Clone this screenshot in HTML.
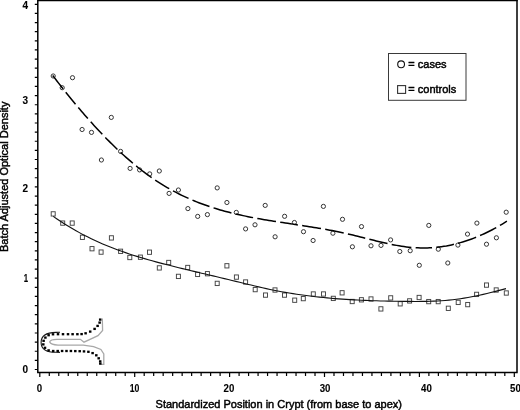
<!DOCTYPE html>
<html><head><meta charset="utf-8"><style>
html,body{margin:0;padding:0;background:#fff;}
svg{display:block;will-change:transform;}
text{font-family:"Liberation Sans",sans-serif;fill:#000;}
.tl{font-size:10px;font-weight:bold;stroke:#000;stroke-width:0.1px;}
.ti{font-size:11px;stroke:#000;stroke-width:0.45px;}
.lg{font-size:11px;stroke:#000;stroke-width:0.45px;}
</style></head><body>
<svg width="520" height="410" viewBox="0 0 520 410">
<path d="M37.8,0 V372.5 H517.0 V0" fill="none" stroke="#000" stroke-width="1.5"/>
<line x1="37.8" y1="0.5" x2="517.7" y2="0.5" stroke="#000" stroke-width="1.3"/>
<path d="M34.8,369.50 H37.8 M34.8,360.37 H37.8 M34.8,351.24 H37.8 M34.8,342.11 H37.8 M34.8,332.98 H37.8 M34.8,323.85 H37.8 M34.8,314.72 H37.8 M34.8,305.59 H37.8 M34.8,296.46 H37.8 M34.8,287.33 H37.8 M34.8,278.20 H37.8 M34.8,269.07 H37.8 M34.8,259.94 H37.8 M34.8,250.81 H37.8 M34.8,241.68 H37.8 M34.8,232.55 H37.8 M34.8,223.42 H37.8 M34.8,214.29 H37.8 M34.8,205.16 H37.8 M34.8,196.03 H37.8 M34.8,186.90 H37.8 M34.8,177.77 H37.8 M34.8,168.64 H37.8 M34.8,159.51 H37.8 M34.8,150.38 H37.8 M34.8,141.25 H37.8 M34.8,132.12 H37.8 M34.8,122.99 H37.8 M34.8,113.86 H37.8 M34.8,104.73 H37.8 M34.8,95.60 H37.8 M34.8,86.47 H37.8 M34.8,77.34 H37.8 M34.8,68.21 H37.8 M34.8,59.08 H37.8 M34.8,49.95 H37.8 M34.8,40.82 H37.8 M34.8,31.69 H37.8 M34.8,22.56 H37.8 M34.8,13.43 H37.8 M34.8,4.30 H37.8 M39.80,372.5 V377.0 M49.29,372.5 V376.0 M58.78,372.5 V376.0 M68.27,372.5 V376.0 M77.76,372.5 V376.0 M87.25,372.5 V376.0 M96.74,372.5 V376.0 M106.23,372.5 V376.0 M115.72,372.5 V376.0 M125.21,372.5 V376.0 M134.70,372.5 V377.0 M144.19,372.5 V376.0 M153.68,372.5 V376.0 M163.17,372.5 V376.0 M172.66,372.5 V376.0 M182.15,372.5 V376.0 M191.64,372.5 V376.0 M201.13,372.5 V376.0 M210.62,372.5 V376.0 M220.11,372.5 V376.0 M229.60,372.5 V377.0 M239.09,372.5 V376.0 M248.58,372.5 V376.0 M258.07,372.5 V376.0 M267.56,372.5 V376.0 M277.05,372.5 V376.0 M286.54,372.5 V376.0 M296.03,372.5 V376.0 M305.52,372.5 V376.0 M315.01,372.5 V376.0 M324.50,372.5 V377.0 M333.99,372.5 V376.0 M343.48,372.5 V376.0 M352.97,372.5 V376.0 M362.46,372.5 V376.0 M371.95,372.5 V376.0 M381.44,372.5 V376.0 M390.93,372.5 V376.0 M400.42,372.5 V376.0 M409.91,372.5 V376.0 M419.40,372.5 V377.0 M428.89,372.5 V376.0 M438.38,372.5 V376.0 M447.87,372.5 V376.0 M457.36,372.5 V376.0 M466.85,372.5 V376.0 M476.34,372.5 V376.0 M485.83,372.5 V376.0 M495.32,372.5 V376.0 M504.81,372.5 V376.0 M514.30,372.5 V377.0" stroke="#000" stroke-width="1.2" fill="none"/>
<text transform="translate(28.0,373.40) scale(1.0,1)" text-anchor="end" class="tl">0</text>
<text transform="translate(28.0,281.80) scale(0.78,1)" text-anchor="end" class="tl">1</text>
<text transform="translate(28.0,192.00) scale(1.0,1)" text-anchor="end" class="tl">2</text>
<text transform="translate(28.0,103.60) scale(1.0,1)" text-anchor="end" class="tl">3</text>
<text transform="translate(28.0,8.60) scale(1.0,1)" text-anchor="end" class="tl">4</text>
<text transform="translate(39.40,391.8) scale(0.97,1)" text-anchor="middle" class="tl">0</text>
<text transform="translate(134.50,391.8) scale(0.87,1)" text-anchor="middle" class="tl">10</text>
<text transform="translate(229.00,391.8) scale(0.97,1)" text-anchor="middle" class="tl">20</text>
<text transform="translate(325.10,391.8) scale(0.97,1)" text-anchor="middle" class="tl">30</text>
<text transform="translate(426.50,391.8) scale(0.97,1)" text-anchor="middle" class="tl">40</text>
<text transform="translate(515.40,391.8) scale(0.97,1)" text-anchor="middle" class="tl">50</text>
<text x="278.8" y="407.5" text-anchor="middle" class="ti">Standardized Position in Crypt (from base to apex)</text>
<text transform="translate(7.9,176.8) rotate(-90)" text-anchor="middle" class="ti">Batch Adjusted Optical Density</text>
<circle cx="53.2" cy="76" r="2.1" fill="#fff" stroke="#2a2a2a" stroke-width="0.95"/>
<circle cx="62.2" cy="87.7" r="2.1" fill="#fff" stroke="#2a2a2a" stroke-width="0.95"/>
<circle cx="72.5" cy="77.7" r="2.1" fill="#fff" stroke="#2a2a2a" stroke-width="0.95"/>
<circle cx="82.1" cy="129.5" r="2.1" fill="#fff" stroke="#2a2a2a" stroke-width="0.95"/>
<circle cx="91.5" cy="132.4" r="2.1" fill="#fff" stroke="#2a2a2a" stroke-width="0.95"/>
<circle cx="101.4" cy="160" r="2.1" fill="#fff" stroke="#2a2a2a" stroke-width="0.95"/>
<circle cx="111.3" cy="117.4" r="2.1" fill="#fff" stroke="#2a2a2a" stroke-width="0.95"/>
<circle cx="120.6" cy="151.4" r="2.1" fill="#fff" stroke="#2a2a2a" stroke-width="0.95"/>
<circle cx="130.1" cy="168.4" r="2.1" fill="#fff" stroke="#2a2a2a" stroke-width="0.95"/>
<circle cx="139.6" cy="169.9" r="2.1" fill="#fff" stroke="#2a2a2a" stroke-width="0.95"/>
<circle cx="149.7" cy="173.9" r="2.1" fill="#fff" stroke="#2a2a2a" stroke-width="0.95"/>
<circle cx="159.3" cy="171" r="2.1" fill="#fff" stroke="#2a2a2a" stroke-width="0.95"/>
<circle cx="169.1" cy="193.4" r="2.1" fill="#fff" stroke="#2a2a2a" stroke-width="0.95"/>
<circle cx="178.4" cy="190" r="2.1" fill="#fff" stroke="#2a2a2a" stroke-width="0.95"/>
<circle cx="187.9" cy="208.6" r="2.1" fill="#fff" stroke="#2a2a2a" stroke-width="0.95"/>
<circle cx="197.7" cy="216.4" r="2.1" fill="#fff" stroke="#2a2a2a" stroke-width="0.95"/>
<circle cx="207.4" cy="214.6" r="2.1" fill="#fff" stroke="#2a2a2a" stroke-width="0.95"/>
<circle cx="217.2" cy="187.9" r="2.1" fill="#fff" stroke="#2a2a2a" stroke-width="0.95"/>
<circle cx="226.9" cy="202.5" r="2.1" fill="#fff" stroke="#2a2a2a" stroke-width="0.95"/>
<circle cx="236.3" cy="212.4" r="2.1" fill="#fff" stroke="#2a2a2a" stroke-width="0.95"/>
<circle cx="245.6" cy="228.9" r="2.1" fill="#fff" stroke="#2a2a2a" stroke-width="0.95"/>
<circle cx="255" cy="224.8" r="2.1" fill="#fff" stroke="#2a2a2a" stroke-width="0.95"/>
<circle cx="265.2" cy="205.4" r="2.1" fill="#fff" stroke="#2a2a2a" stroke-width="0.95"/>
<circle cx="275.1" cy="236.8" r="2.1" fill="#fff" stroke="#2a2a2a" stroke-width="0.95"/>
<circle cx="284.6" cy="216.3" r="2.1" fill="#fff" stroke="#2a2a2a" stroke-width="0.95"/>
<circle cx="294.4" cy="222.5" r="2.1" fill="#fff" stroke="#2a2a2a" stroke-width="0.95"/>
<circle cx="303.5" cy="231.7" r="2.1" fill="#fff" stroke="#2a2a2a" stroke-width="0.95"/>
<circle cx="313.1" cy="240.5" r="2.1" fill="#fff" stroke="#2a2a2a" stroke-width="0.95"/>
<circle cx="323.4" cy="206.4" r="2.1" fill="#fff" stroke="#2a2a2a" stroke-width="0.95"/>
<circle cx="332.9" cy="233.2" r="2.1" fill="#fff" stroke="#2a2a2a" stroke-width="0.95"/>
<circle cx="342.5" cy="219.3" r="2.1" fill="#fff" stroke="#2a2a2a" stroke-width="0.95"/>
<circle cx="352.4" cy="246.8" r="2.1" fill="#fff" stroke="#2a2a2a" stroke-width="0.95"/>
<circle cx="361.5" cy="226.6" r="2.1" fill="#fff" stroke="#2a2a2a" stroke-width="0.95"/>
<circle cx="371" cy="245.8" r="2.1" fill="#fff" stroke="#2a2a2a" stroke-width="0.95"/>
<circle cx="381" cy="245.4" r="2.1" fill="#fff" stroke="#2a2a2a" stroke-width="0.95"/>
<circle cx="390.6" cy="239.9" r="2.1" fill="#fff" stroke="#2a2a2a" stroke-width="0.95"/>
<circle cx="399.8" cy="251.5" r="2.1" fill="#fff" stroke="#2a2a2a" stroke-width="0.95"/>
<circle cx="410.2" cy="250.7" r="2.1" fill="#fff" stroke="#2a2a2a" stroke-width="0.95"/>
<circle cx="419.3" cy="265.3" r="2.1" fill="#fff" stroke="#2a2a2a" stroke-width="0.95"/>
<circle cx="428.8" cy="225.4" r="2.1" fill="#fff" stroke="#2a2a2a" stroke-width="0.95"/>
<circle cx="438.3" cy="249.2" r="2.1" fill="#fff" stroke="#2a2a2a" stroke-width="0.95"/>
<circle cx="447.8" cy="263" r="2.1" fill="#fff" stroke="#2a2a2a" stroke-width="0.95"/>
<circle cx="457.9" cy="245.1" r="2.1" fill="#fff" stroke="#2a2a2a" stroke-width="0.95"/>
<circle cx="467.5" cy="234.1" r="2.1" fill="#fff" stroke="#2a2a2a" stroke-width="0.95"/>
<circle cx="476.9" cy="223.1" r="2.1" fill="#fff" stroke="#2a2a2a" stroke-width="0.95"/>
<circle cx="486.5" cy="244.2" r="2.1" fill="#fff" stroke="#2a2a2a" stroke-width="0.95"/>
<circle cx="496.4" cy="237.8" r="2.1" fill="#fff" stroke="#2a2a2a" stroke-width="0.95"/>
<circle cx="506.2" cy="212.2" r="2.1" fill="#fff" stroke="#2a2a2a" stroke-width="0.95"/>
<rect x="51.20" y="211.75" width="4.0" height="4.3" fill="#fff" stroke="#444" stroke-width="0.95"/>
<rect x="60.70" y="220.95" width="4.0" height="4.3" fill="#fff" stroke="#444" stroke-width="0.95"/>
<rect x="70.20" y="220.95" width="4.0" height="4.3" fill="#fff" stroke="#444" stroke-width="0.95"/>
<rect x="80.40" y="235.15" width="4.0" height="4.3" fill="#fff" stroke="#444" stroke-width="0.95"/>
<rect x="90.00" y="246.55" width="4.0" height="4.3" fill="#fff" stroke="#444" stroke-width="0.95"/>
<rect x="99.10" y="249.95" width="4.0" height="4.3" fill="#fff" stroke="#444" stroke-width="0.95"/>
<rect x="109.40" y="235.75" width="4.0" height="4.3" fill="#fff" stroke="#444" stroke-width="0.95"/>
<rect x="118.60" y="249.15" width="4.0" height="4.3" fill="#fff" stroke="#444" stroke-width="0.95"/>
<rect x="127.80" y="255.35" width="4.0" height="4.3" fill="#fff" stroke="#444" stroke-width="0.95"/>
<rect x="138.40" y="255.05" width="4.0" height="4.3" fill="#fff" stroke="#444" stroke-width="0.95"/>
<rect x="147.50" y="250.05" width="4.0" height="4.3" fill="#fff" stroke="#444" stroke-width="0.95"/>
<rect x="157.30" y="265.75" width="4.0" height="4.3" fill="#fff" stroke="#444" stroke-width="0.95"/>
<rect x="166.70" y="260.35" width="4.0" height="4.3" fill="#fff" stroke="#444" stroke-width="0.95"/>
<rect x="176.40" y="274.25" width="4.0" height="4.3" fill="#fff" stroke="#444" stroke-width="0.95"/>
<rect x="185.70" y="265.35" width="4.0" height="4.3" fill="#fff" stroke="#444" stroke-width="0.95"/>
<rect x="195.60" y="272.25" width="4.0" height="4.3" fill="#fff" stroke="#444" stroke-width="0.95"/>
<rect x="205.40" y="271.55" width="4.0" height="4.3" fill="#fff" stroke="#444" stroke-width="0.95"/>
<rect x="215.20" y="281.25" width="4.0" height="4.3" fill="#fff" stroke="#444" stroke-width="0.95"/>
<rect x="224.90" y="263.65" width="4.0" height="4.3" fill="#fff" stroke="#444" stroke-width="0.95"/>
<rect x="234.40" y="274.95" width="4.0" height="4.3" fill="#fff" stroke="#444" stroke-width="0.95"/>
<rect x="243.60" y="279.85" width="4.0" height="4.3" fill="#fff" stroke="#444" stroke-width="0.95"/>
<rect x="253.20" y="287.45" width="4.0" height="4.3" fill="#fff" stroke="#444" stroke-width="0.95"/>
<rect x="263.50" y="292.95" width="4.0" height="4.3" fill="#fff" stroke="#444" stroke-width="0.95"/>
<rect x="273.00" y="287.85" width="4.0" height="4.3" fill="#fff" stroke="#444" stroke-width="0.95"/>
<rect x="282.50" y="292.95" width="4.0" height="4.3" fill="#fff" stroke="#444" stroke-width="0.95"/>
<rect x="292.70" y="298.05" width="4.0" height="4.3" fill="#fff" stroke="#444" stroke-width="0.95"/>
<rect x="301.30" y="296.45" width="4.0" height="4.3" fill="#fff" stroke="#444" stroke-width="0.95"/>
<rect x="311.30" y="291.85" width="4.0" height="4.3" fill="#fff" stroke="#444" stroke-width="0.95"/>
<rect x="321.50" y="291.85" width="4.0" height="4.3" fill="#fff" stroke="#444" stroke-width="0.95"/>
<rect x="331.30" y="296.25" width="4.0" height="4.3" fill="#fff" stroke="#444" stroke-width="0.95"/>
<rect x="340.10" y="290.65" width="4.0" height="4.3" fill="#fff" stroke="#444" stroke-width="0.95"/>
<rect x="350.20" y="299.35" width="4.0" height="4.3" fill="#fff" stroke="#444" stroke-width="0.95"/>
<rect x="359.40" y="297.65" width="4.0" height="4.3" fill="#fff" stroke="#444" stroke-width="0.95"/>
<rect x="369.00" y="296.85" width="4.0" height="4.3" fill="#fff" stroke="#444" stroke-width="0.95"/>
<rect x="378.90" y="306.75" width="4.0" height="4.3" fill="#fff" stroke="#444" stroke-width="0.95"/>
<rect x="388.70" y="295.75" width="4.0" height="4.3" fill="#fff" stroke="#444" stroke-width="0.95"/>
<rect x="398.20" y="301.65" width="4.0" height="4.3" fill="#fff" stroke="#444" stroke-width="0.95"/>
<rect x="407.60" y="298.75" width="4.0" height="4.3" fill="#fff" stroke="#444" stroke-width="0.95"/>
<rect x="417.10" y="295.35" width="4.0" height="4.3" fill="#fff" stroke="#444" stroke-width="0.95"/>
<rect x="426.70" y="299.45" width="4.0" height="4.3" fill="#fff" stroke="#444" stroke-width="0.95"/>
<rect x="436.20" y="299.45" width="4.0" height="4.3" fill="#fff" stroke="#444" stroke-width="0.95"/>
<rect x="446.30" y="306.15" width="4.0" height="4.3" fill="#fff" stroke="#444" stroke-width="0.95"/>
<rect x="456.20" y="300.25" width="4.0" height="4.3" fill="#fff" stroke="#444" stroke-width="0.95"/>
<rect x="465.70" y="302.45" width="4.0" height="4.3" fill="#fff" stroke="#444" stroke-width="0.95"/>
<rect x="474.60" y="292.25" width="4.0" height="4.3" fill="#fff" stroke="#444" stroke-width="0.95"/>
<rect x="484.50" y="282.95" width="4.0" height="4.3" fill="#fff" stroke="#444" stroke-width="0.95"/>
<rect x="494.20" y="287.85" width="4.0" height="4.3" fill="#fff" stroke="#444" stroke-width="0.95"/>
<rect x="504.30" y="290.85" width="4.0" height="4.3" fill="#fff" stroke="#444" stroke-width="0.95"/>
<path d="M53.20,216.34 L57.01,218.98 L60.81,221.52 L64.62,223.97 L68.42,226.32 L72.23,228.59 L76.03,230.77 L79.84,232.87 L83.64,234.89 L87.45,236.83 L91.25,238.70 L95.06,240.50 L98.86,242.22 L102.67,243.89 L106.47,245.49 L110.28,247.03 L114.08,248.51 L117.89,249.94 L121.69,251.31 L125.50,252.64 L129.30,253.92 L133.11,255.16 L136.91,256.36 L140.72,257.52 L144.52,258.65 L148.33,259.74 L152.13,260.81 L155.94,261.85 L159.74,262.87 L163.55,263.86 L167.35,264.84 L171.16,265.80 L174.96,266.76 L178.77,267.70 L182.57,268.63 L186.38,269.55 L190.18,270.46 L193.99,271.37 L197.79,272.27 L201.60,273.18 L205.40,274.08 L209.21,274.98 L213.01,275.88 L216.82,276.78 L220.62,277.69 L224.43,278.60 L228.23,279.52 L232.04,280.45 L235.84,281.38 L239.65,282.31 L243.45,283.25 L247.26,284.17 L251.06,285.09 L254.87,286.00 L258.67,286.89 L262.48,287.76 L266.28,288.60 L270.09,289.42 L273.89,290.21 L277.70,290.96 L281.50,291.68 L285.31,292.37 L289.11,293.02 L292.92,293.64 L296.72,294.23 L300.53,294.79 L304.33,295.32 L308.14,295.82 L311.94,296.29 L315.75,296.73 L319.55,297.15 L323.36,297.54 L327.16,297.91 L330.97,298.26 L334.77,298.58 L338.58,298.87 L342.38,299.15 L346.19,299.41 L349.99,299.64 L353.80,299.86 L357.60,300.06 L361.41,300.24 L365.21,300.41 L369.02,300.56 L372.82,300.70 L376.63,300.82 L380.43,300.93 L384.24,301.02 L388.04,301.11 L391.85,301.18 L395.65,301.24 L399.46,301.30 L403.26,301.34 L407.07,301.38 L410.87,301.41 L414.68,301.43 L418.48,301.43 L422.29,301.41 L426.09,301.35 L429.90,301.27 L433.70,301.14 L437.51,300.96 L441.31,300.74 L445.12,300.46 L448.92,300.11 L452.73,299.70 L456.53,299.23 L460.34,298.69 L464.14,298.09 L467.95,297.44 L471.75,296.74 L475.56,295.99 L479.36,295.19 L483.17,294.35 L486.97,293.47 L490.78,292.56 L494.58,291.61 L498.39,290.63 L502.19,289.63 L506.00,288.61" fill="none" stroke="#111" stroke-width="1.1"/>
<path d="M52.70,75.47 L54.17,77.39 L55.64,79.31 L57.11,81.22 L58.59,83.12 L60.08,85.03 L61.57,86.92 L63.06,88.82 M65.74,92.18 L67.35,94.20 L68.97,96.20 L70.60,98.20 L72.23,100.20 L73.87,102.19 L75.52,104.17 M78.28,107.47 L79.86,109.33 L81.45,111.20 L83.05,113.05 L84.65,114.90 L86.26,116.75 L87.87,118.59 M90.73,121.80 L92.36,123.61 L94.00,125.41 L95.65,127.21 L97.30,129.00 L98.96,130.78 L100.63,132.56 L102.31,134.32 M105.30,137.42 L107.00,139.16 L108.72,140.89 L110.44,142.62 L112.17,144.33 L113.92,146.04 L115.67,147.73 L117.44,149.42 M120.57,152.36 L122.29,153.94 L124.03,155.51 L125.77,157.08 L127.52,158.63 L129.29,160.17 L131.06,161.69 L132.85,163.20 M136.16,165.94 L138.05,167.47 L139.95,168.97 L141.86,170.47 L143.78,171.94 L145.72,173.39 L147.68,174.83 L149.65,176.24 L151.63,177.64 M155.18,180.06 L157.15,181.36 L159.13,182.64 L161.12,183.90 L163.13,185.14 L165.15,186.35 L167.18,187.55 L169.22,188.72 M172.99,190.80 L175.17,191.96 L177.37,193.10 L179.58,194.22 L181.80,195.31 L184.03,196.38 L186.27,197.42 L188.53,198.44 M192.48,200.14 L194.57,201.01 L196.68,201.87 L198.79,202.70 L200.91,203.51 L203.03,204.30 L205.17,205.07 L207.31,205.82 L209.46,206.55 M213.55,207.89 L215.76,208.58 L217.98,209.25 L220.21,209.91 L222.44,210.54 L224.68,211.16 L226.92,211.76 L229.16,212.35 L231.41,212.92 M235.59,213.93 L238.08,214.51 L240.57,215.07 L243.07,215.61 L245.57,216.13 L248.07,216.65 L250.58,217.14 L253.09,217.63 M257.31,218.41 L259.64,218.83 L261.97,219.24 L264.30,219.64 L266.64,220.04 L268.97,220.42 L271.30,220.80 L273.64,221.18 L275.98,221.55 M280.22,222.21 L282.75,222.60 L285.27,222.98 L287.79,223.36 L290.31,223.74 L292.83,224.13 L295.35,224.51 L297.87,224.89 M302.13,225.54 L304.48,225.90 L306.84,226.27 L309.20,226.64 L311.56,227.02 L313.92,227.40 L316.27,227.79 L318.63,228.18 L320.98,228.58 M325.22,229.33 L327.53,229.74 L329.85,230.17 L332.16,230.61 L334.48,231.06 L336.79,231.52 L339.09,231.99 L341.40,232.47 L343.70,232.97 M347.90,233.90 L350.38,234.48 L352.86,235.07 L355.33,235.67 L357.81,236.29 L360.28,236.91 L362.75,237.53 L365.22,238.16 M369.38,239.22 L371.64,239.79 L373.90,240.35 L376.16,240.91 L378.42,241.47 L380.69,242.01 L382.95,242.54 L385.22,243.06 L387.50,243.56 M391.71,244.45 L394.14,244.93 L396.59,245.38 L399.04,245.81 L401.49,246.20 L403.95,246.57 L406.42,246.89 L408.88,247.18 L411.36,247.43 M415.65,247.76 L417.99,247.87 L420.33,247.95 L422.68,247.98 L425.02,247.97 L427.37,247.92 L429.71,247.82 L432.06,247.68 M436.34,247.32 L438.87,247.03 L441.40,246.70 L443.92,246.32 L446.43,245.90 L448.93,245.42 L451.43,244.90 L453.91,244.34 M458.08,243.29 L460.37,242.65 L462.66,241.98 L464.93,241.27 L467.19,240.53 L469.44,239.75 L471.68,238.94 L473.90,238.09 L476.11,237.21 M480.08,235.55 L482.14,234.64 L484.19,233.70 L486.22,232.74 L488.25,231.75 L490.26,230.74 L492.26,229.71 L494.25,228.65 L496.23,227.57 M499.96,225.44 L502.29,224.07 L504.61,222.66 L506.90,221.23" fill="none" stroke="#000" stroke-width="1.5"/>
<rect x="388.5" y="53.5" width="77.5" height="46.8" fill="#fff" stroke="#3a3a3a" stroke-width="1"/>
<circle cx="401.1" cy="64.3" r="3.4" fill="none" stroke="#111" stroke-width="1.1"/>
<rect x="397.6" y="85.6" width="8" height="7.8" fill="none" stroke="#333" stroke-width="1.1"/>
<text x="408.3" y="67.8" class="lg">= cases</text>
<text x="408.3" y="92.8" class="lg">= controls</text>
<path d="M102.3,318.6 L102.6,330.5 L98,335.6 L84,342.2 L80.4,339.3 L57,339.4 Q50.5,339.6 49.6,341.9 Q51,344.8 58,345.2 L83.3,345.1 L93.6,346.6 L100.9,349.5 L103.8,354 L103.8,364.4 L100.5,364.4" fill="none" stroke="#a8a8a8" stroke-width="1.3"/>
<path d="M60,332.3 L56,332.4 Q41.1,332.6 41.1,342.4 Q41.1,352.3 56,352.3 L60,352.4" fill="none" stroke="#1a1a1a" stroke-width="1.1"/>
<rect x="98.95" y="318.45" width="2.5" height="2.3" fill="#000"/><rect x="98.35" y="321.45" width="2.5" height="2.3" fill="#000"/><rect x="96.35" y="324.75" width="2.5" height="2.3" fill="#000"/><rect x="93.35" y="327.75" width="2.5" height="2.3" fill="#000"/><rect x="88.95" y="330.45" width="2.5" height="2.3" fill="#000"/><rect x="84.35" y="332.15" width="2.5" height="2.3" fill="#000"/><rect x="80.35" y="332.95" width="2.5" height="2.3" fill="#000"/><rect x="76.15" y="333.05" width="2.5" height="2.3" fill="#000"/><rect x="71.35" y="333.05" width="2.5" height="2.3" fill="#000"/><rect x="66.75" y="333.05" width="2.5" height="2.3" fill="#000"/><rect x="61.75" y="333.05" width="2.5" height="2.3" fill="#000"/><rect x="56.75" y="333.05" width="2.5" height="2.3" fill="#000"/><rect x="51.75" y="333.15" width="2.5" height="2.3" fill="#000"/><rect x="47.35" y="334.05" width="2.5" height="2.3" fill="#000"/><rect x="44.15" y="336.45" width="2.5" height="2.3" fill="#000"/><rect x="42.35" y="339.65" width="2.5" height="2.3" fill="#000"/><rect x="42.05" y="343.25" width="2.5" height="2.3" fill="#000"/><rect x="43.75" y="346.65" width="2.5" height="2.3" fill="#000"/><rect x="47.35" y="349.25" width="2.5" height="2.3" fill="#000"/><rect x="51.95" y="349.85" width="2.5" height="2.3" fill="#000"/><rect x="56.45" y="349.85" width="2.5" height="2.3" fill="#000"/><rect x="60.85" y="349.85" width="2.5" height="2.3" fill="#000"/><rect x="65.25" y="349.85" width="2.5" height="2.3" fill="#000"/><rect x="69.65" y="349.85" width="2.5" height="2.3" fill="#000"/><rect x="74.05" y="349.95" width="2.5" height="2.3" fill="#000"/><rect x="78.45" y="350.05" width="2.5" height="2.3" fill="#000"/><rect x="82.75" y="350.25" width="2.5" height="2.3" fill="#000"/><rect x="87.15" y="350.65" width="2.5" height="2.3" fill="#000"/><rect x="91.35" y="351.95" width="2.5" height="2.3" fill="#000"/><rect x="95.05" y="354.15" width="2.5" height="2.3" fill="#000"/><rect x="97.45" y="357.15" width="2.5" height="2.3" fill="#000"/><rect x="98.95" y="360.25" width="2.5" height="2.3" fill="#000"/><rect x="99.05" y="362.45" width="2.5" height="2.3" fill="#000"/>
</svg>
</body></html>
